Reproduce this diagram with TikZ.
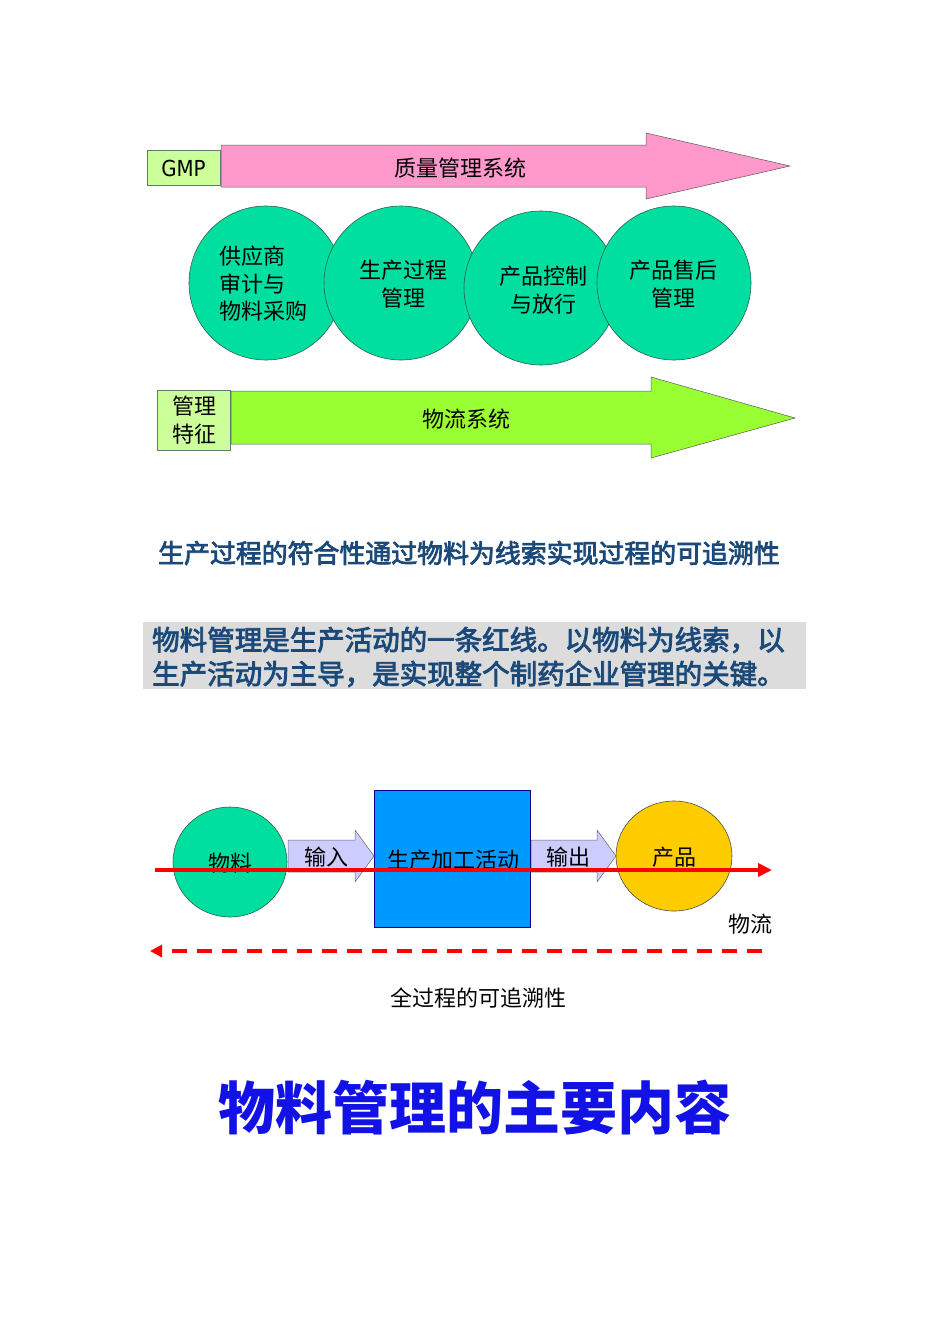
\documentclass[tikz,border=0pt]{standalone}
\usepackage{fontspec}
\setmainfont{Noto Sans CJK SC}
\newfontfamily\semibold{Noto Sans CJK SC}[FakeBold=3]
\newfontfamily\gmpfont{DejaVu Sans Condensed}
\usetikzlibrary{arrows.meta}
\definecolor{pinkfill}{HTML}{FF99CC}
\definecolor{limefill}{HTML}{99FF33}
\definecolor{paleg}{HTML}{CCFF99}
\definecolor{turq}{HTML}{00DFA0}
\definecolor{boxblue}{HTML}{0099FF}
\definecolor{lav}{HTML}{CCCCFF}
\definecolor{yel}{HTML}{FFCC00}
\definecolor{navy}{HTML}{1B4A7A}
\definecolor{grayfill}{HTML}{DCDCDC}
\definecolor{titleblue}{HTML}{1212E6}
\definecolor{edge}{HTML}{2F5F4F}
\tikzset{
  lbl/.style={inner sep=0pt, font=\fontsize{22}{27.5}\selectfont, align=center},
  tagbox/.style={draw=edge!80, line width=0.6pt, fill=paleg},
  bubble/.style={draw=edge, line width=0.6pt, fill=turq},
  bigarrow/.style={draw=gray!70!black, line width=0.5pt},
  smallarrow/.style={draw=gray!80!black, line width=0.5pt, fill=lav},
}
\begin{document}
\begin{tikzpicture}[x=1pt,y=-1pt]
\useasboundingbox (0,0) rectangle (950,1344);
\fill[white] (0,0) rectangle (950,1344);

% ---------- top: quality system arrow
\draw[tagbox] (147,150) rectangle (220,185);
\node[inner sep=0pt, font=\gmpfont\fontsize{22}{24}\selectfont] (gmp) at (183.5,168) {GMP};
\draw[bigarrow, fill=pinkfill] (221,145) -- (646,145) -- (646,133) -- (790,166) -- (646,199) -- (646,187) -- (221,187) -- cycle;
\node[lbl] (qms) at (460,168) {质量管理系统};

% ---------- circles
\draw[bubble] (266,283) circle (77);
\draw[bubble] (401,283) circle (77);
\draw[bubble] (541,288) circle (77);
\draw[bubble] (674,283) circle (77);
\node[lbl, align=left, anchor=west] (c1) at (219,284) {供应商\\审计与\\物料采购};
\node[lbl] (c2) at (403,284) {生产过程\\管理};
\node[lbl] (c3) at (543,290) {产品控制\\与放行};
\node[lbl] (c4) at (673,284) {产品售后\\管理};

% ---------- logistics arrow
\draw[tagbox] (157,390) rectangle (230,450);
\node[lbl] (feat) at (194,420) {管理\\特征};
\draw[bigarrow, fill=limefill] (231,391) -- (651,391) -- (651,377) -- (795,418) -- (651,458) -- (651,444) -- (231,444) -- cycle;
\node[lbl] (lsys) at (466,419) {物流系统};

% ---------- statements
\node[inner sep=0pt, text=navy, font=\semibold\fontsize{25.9}{30}\selectfont] (s1) at (469,553) {生产过程的符合性通过物料为线索实现过程的可追溯性};
\fill[grayfill] (143,622) rectangle (806,689);
\node[inner sep=0pt, anchor=west, align=left, text=navy, font=\semibold\fontsize{27.5}{34}\selectfont] (s2) at (152,657)
  {物料管理是生产活动的一条红线。以物料为线索，以\\生产活动为主导，是实现整个制药企业管理的关键。};

% ---------- process diagram
\draw[bubble] (230,862) ellipse (57 and 55);
\node[lbl] (mat) at (230,863) {物料};
\draw[smallarrow] (288,840) -- (355,840) -- (355,830) -- (374,856) -- (355,882) -- (355,872) -- (288,872) -- cycle;
\node[lbl] (in) at (326,857) {输入};
\draw[draw=blue!50!black, line width=0.6pt, fill=boxblue] (374,790) rectangle (530,927);
\node[lbl] (proc) at (453,860) {生产加工活动};
\draw[smallarrow] (531,840) -- (597,840) -- (597,830) -- (616,856) -- (597,882) -- (597,872) -- (531,872) -- cycle;
\node[lbl] (out) at (568,857) {输出};
\draw[draw=gray!60!black, line width=0.6pt, fill=yel] (674,856) ellipse (58 and 55);
\node[lbl] (prod) at (674,857) {产品};

\coordinate (fs) at (155,870);
\coordinate (fe) at (772,870);
\draw[red, line width=3.8pt, -{Triangle[length=14pt,width=13pt]}] (fs) -- (fe);
\node[lbl] (flow) at (750,924) {物流};

\coordinate (ds) at (762,951);
\coordinate (de) at (150,951);
\draw[red, line width=3.5pt, dash pattern=on 15pt off 10pt, -{Triangle[length=12pt,width=12pt]}] (ds) -- (de);
\node[lbl] (trace) at (478,998) {全过程的可追溯性};

% ---------- title
\node[inner sep=0pt, text=titleblue, font=\bfseries\fontsize{57}{60}\selectfont] (title) at (475,1108) {物料管理的主要内容};
\end{tikzpicture}
\end{document}
